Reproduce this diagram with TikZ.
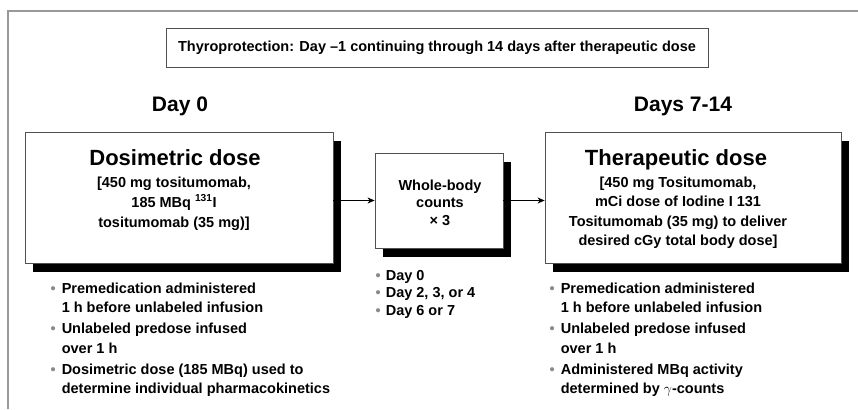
\documentclass[tikz,border=0pt]{standalone}
\usepackage{fontspec}
\setmainfont{Liberation Sans}
\usetikzlibrary{arrows.meta,shadows}
\definecolor{framegray}{HTML}{999999}
\definecolor{boxgray}{HTML}{505050}
\definecolor{dotgray}{HTML}{8A8A8A}
\newcommand{\notebullet}{{\color{dotgray}\textbullet}}
\begin{document}
\begin{tikzpicture}[x=1pt,y=1pt]
\tikzstyle{every node}+=[inner sep=0pt, font=\bfseries]
\tikzstyle{dosebox}=[draw=boxgray, line width=0.8pt, fill=white, drop shadow={shadow xshift=8pt, shadow yshift=-9pt, fill=black, opacity=1}]
\tikzstyle{flow}=[black, line width=0.9pt, -{Stealth[length=7pt,width=6pt,inset=2pt]}]
\tikzstyle{daylabel}=[font=\bfseries\fontsize{21}{25}\selectfont]
\tikzstyle{titletext}=[font=\bfseries\fontsize{22}{26}\selectfont, anchor=base]
\tikzstyle{bodytext}=[font=\bfseries\fontsize{14.5}{19.5}\selectfont, anchor=base]
\useasboundingbox (0,0) rectangle (858,-409);
\draw [framegray, line width=1.5pt] (8,-409) -- (8,-11) -- (858,-11);
\node [draw=boxgray, line width=0.8pt, minimum width=542pt, minimum height=39pt, font=\bfseries\fontsize{14.5}{17}\selectfont] (thyro) at (437,-47.5) {Thyroprotection: Day –1 continuing through 14 days after therapeutic dose};
\node [daylabel] (dayzero) at (180,-106) {Day 0};
\node [daylabel] (dayseven) at (683,-106) {Days 7-14};
\node [dosebox, minimum width=308pt, minimum height=131pt] (dosi) at (179,-197.5) {};
\node [dosebox, minimum width=128pt, minimum height=95pt] (whole) at (439,-200.5) {};
\node [dosebox, minimum width=296pt, minimum height=131pt] (thera) at (693,-197.5) {};
\node [titletext] (dosititle) at (175,-165) {Dosimetric dose};
\node [bodytext, font=\bfseries\fontsize{14.5}{20}\selectfont] (dosibody) at (174,-187) {\begin{tabular}[t]{@{}c@{}}[450 mg tositumomab,\\ 185 MBq \textsuperscript{131}I\\ tositumomab (35 mg)]\end{tabular}};
\node [bodytext, font=\bfseries\fontsize{14.5}{17.5}\selectfont] (wholebody) at (440,-190) {\begin{tabular}[t]{@{}c@{}}Whole-body\\ counts\\ × 3\end{tabular}};
\node [titletext] (theratitle) at (676,-165) {Therapeutic dose};
\node [bodytext] (therabody) at (678,-187) {\begin{tabular}[t]{@{}c@{}}[450 mg Tositumomab,\\ mCi dose of Iodine I 131\\ Tositumomab (35 mg) to deliver\\ desired cGy total body dose]\end{tabular}};
\draw [flow] (whole.west -| dosi.east) -- (whole.west);
\draw [flow] (whole.east) -- (whole.east -| thera.west);
\node [bodytext, anchor=base west] (dosinotes) at (50.5,-293) {\begin{tabular}[t]{@{}l@{\hspace{6pt}}l@{}}\notebullet & Premedication administered\\ & 1 h before unlabeled infusion\\[1.5pt] \notebullet & Unlabeled predose infused\\ & over 1 h\\[1.5pt] \notebullet & Dosimetric dose (185 MBq) used to\\ & determine individual pharmacokinetics\end{tabular}};
\node [bodytext, anchor=base west, font=\bfseries\fontsize{14.5}{17.5}\selectfont] (wholenotes) at (375.5,-280) {\begin{tabular}[t]{@{}l@{\hspace{5pt}}l@{}}\notebullet & Day 0\\ \notebullet & Day 2, 3, or 4\\ \notebullet & Day 6 or 7\end{tabular}};
\node [bodytext, anchor=base west] (theranotes) at (549.5,-293) {\begin{tabular}[t]{@{}l@{\hspace{6pt}}l@{}}\notebullet & Premedication administered\\ & 1 h before unlabeled infusion\\[1.5pt] \notebullet & Unlabeled predose infused\\ & over 1 h\\[1.5pt] \notebullet & Administered MBq activity\\ & determined by $\gamma$-counts\end{tabular}};
\end{tikzpicture}
\end{document}
